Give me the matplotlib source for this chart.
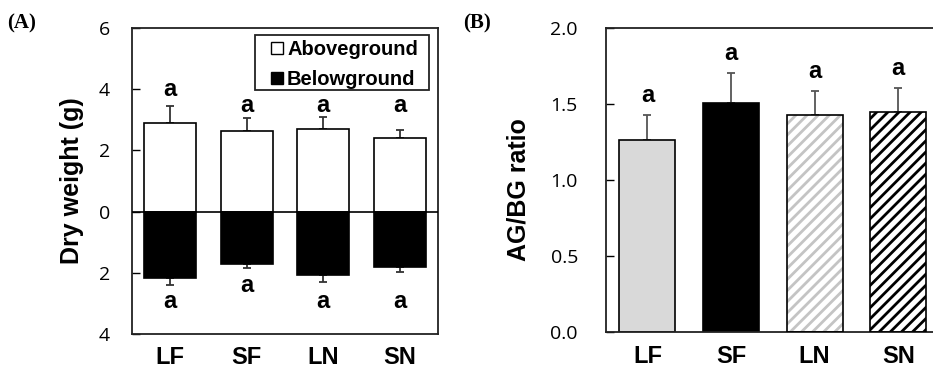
import matplotlib
matplotlib.use("Agg")
import matplotlib.pyplot as plt
from matplotlib.patches import Patch, Rectangle

# ---- data ----
groups = ["LF", "SF", "LN", "SN"]

above = [2.88, 2.62, 2.70, 2.40]
above_err = [0.56, 0.44, 0.39, 0.28]
below = [2.17, 1.71, 2.08, 1.81]
below_err = [0.23, 0.14, 0.22, 0.16]
letters_above = ["a", "a", "a", "a"]
letters_below = ["a", "a", "a", "a"]

ratio = [1.265, 1.507, 1.428, 1.447]
ratio_err = [0.165, 0.197, 0.16, 0.16]
letters_ratio = ["a", "a", "a", "a"]

W, H = 933, 368
fig = plt.figure(figsize=(W / 100, H / 100), dpi=100)

bold = dict(family="Liberation Sans", weight="bold")
x = list(range(len(groups)))


def style_axis(ax, pad):
    ax.tick_params(axis="y", direction="in", length=6, width=1, pad=pad)
    ax.tick_params(axis="x", length=0, pad=9)
    for lab in ax.get_yticklabels():
        lab.set_family("Open Sans")
        lab.set_fontsize(14)
    for lab in ax.get_xticklabels():
        lab.set_family("Liberation Sans")
        lab.set_weight("bold")
        lab.set_fontsize(17)
    for sp in ax.spines.values():
        sp.set_linewidth(1.3)
        sp.set_color("#222222")


# ---- panel A ----
axA = fig.add_axes([132 / W, 1 - 334 / H, 306 / W, 306 / H])
axA.bar(x, above, width=0.68, color="white", edgecolor="black", lw=1.2, zorder=2)
axA.bar(x, [-v for v in below], width=0.68, color="black", edgecolor="black",
        lw=1.2, zorder=2)
axA.errorbar(x, above, yerr=[[0] * 4, above_err], fmt="none", ecolor="#333333",
             elinewidth=1.3, capsize=3, capthick=1.3, zorder=1)
axA.errorbar(x, [-v for v in below], yerr=[below_err, [0] * 4], fmt="none",
             ecolor="#333333", elinewidth=1.3, capsize=3, capthick=1.3, zorder=1)
axA.axhline(0, color="black", lw=1.2, zorder=3)

# letter positions (hand placed as in the original)
lab_up = [3.99, 3.46, 3.46, 3.46]
lab_dn = [-2.95, -2.40, -2.95, -2.95]
for i in x:
    axA.text(i, lab_up[i], letters_above[i], ha="center", va="center",
             fontsize=17, **bold)
    axA.text(i, lab_dn[i], letters_below[i], ha="center", va="center",
             fontsize=17, **bold)

axA.set_xlim(-0.5, 3.5)
axA.set_ylim(-4, 6)
axA.set_yticks([-4, -2, 0, 2, 4, 6])
axA.set_yticklabels(["4", "2", "0", "2", "4", "6"])
axA.set_xticks(x)
axA.set_xticklabels(groups)
axA.set_ylabel("Dry weight (g)", fontsize=18, va="center", **bold)
axA.yaxis.set_label_coords(-0.196, 0.5)
style_axis(axA, 16)

# legend with a hand-drawn box (wider left padding than matplotlib gives)
axA.add_patch(Rectangle((0.402, 0.797), 0.569, 0.18, transform=axA.transAxes,
                        facecolor="white", edgecolor="#222222", lw=1.3, zorder=4))
handles = [Patch(facecolor="white", edgecolor="black", lw=1, label="Aboveground"),
           Patch(facecolor="black", edgecolor="black", lw=1, label="Belowground")]
leg = axA.legend(handles=handles, loc="upper left",
                 bbox_to_anchor=((271 - 132) / 306, (334 - 40) / 306),
                 prop=dict(family="Liberation Sans", weight="bold", size=14.5),
                 frameon=False, handlelength=0.58, handleheight=0.58,
                 handletextpad=0.22, borderpad=0, labelspacing=0.55,
                 borderaxespad=0)
leg.set_zorder(5)

# ---- panel B ----
axB = fig.add_axes([605.7 / W, 1 - 332.3 / H, 334.3 / W, 304 / H])
face = ["#d9d9d9", "black", "white", "white"]
hatch = [None, None, "///", "///"]
hatch_col = [None, None, "#c4c4c4", "black"]
hatch_lw = [1.0, 1.0, 2.0, 2.0]
for i in x:
    with plt.rc_context({"hatch.linewidth": hatch_lw[i]}):
        if hatch[i]:
            axB.bar(i, ratio[i], width=0.67, color=face[i], edgecolor=hatch_col[i],
                    hatch=hatch[i], lw=0, zorder=2)
            axB.bar(i, ratio[i], width=0.67, color="none", edgecolor="black",
                    lw=1.2, zorder=3)
        else:
            axB.bar(i, ratio[i], width=0.67, color=face[i], edgecolor="black",
                    lw=1.2, zorder=2)
axB.errorbar(x, ratio, yerr=[[0] * 4, ratio_err], fmt="none", ecolor="#555555",
             elinewidth=1.3, capsize=3, capthick=1.3, zorder=1)
for i in x:
    axB.text(i, ratio[i] + ratio_err[i] + 0.13, letters_ratio[i], ha="center",
             va="center", fontsize=17, **bold)

axB.set_xlim(-0.5, 3.5)
axB.set_ylim(0, 2.0)
axB.set_yticks([0, 0.5, 1.0, 1.5, 2.0])
axB.set_yticklabels(["0.0", "0.5", "1.0", "1.5", "2.0"])
axB.set_xticks(x)
axB.set_xticklabels(groups)
axB.set_ylabel("AG/BG ratio", fontsize=18, va="center", **bold)
axB.yaxis.set_label_coords(-0.262, 0.47)
style_axis(axB, 20)

# panel tags
fig.text(7 / W, 1 - 23 / H, "(A)", family="Liberation Serif", weight="bold",
         fontsize=15, va="center", ha="left")
fig.text(463 / W, 1 - 23 / H, "(B)", family="Liberation Serif", weight="bold",
         fontsize=15, va="center", ha="left")

fig.savefig("out.png", dpi=100)
